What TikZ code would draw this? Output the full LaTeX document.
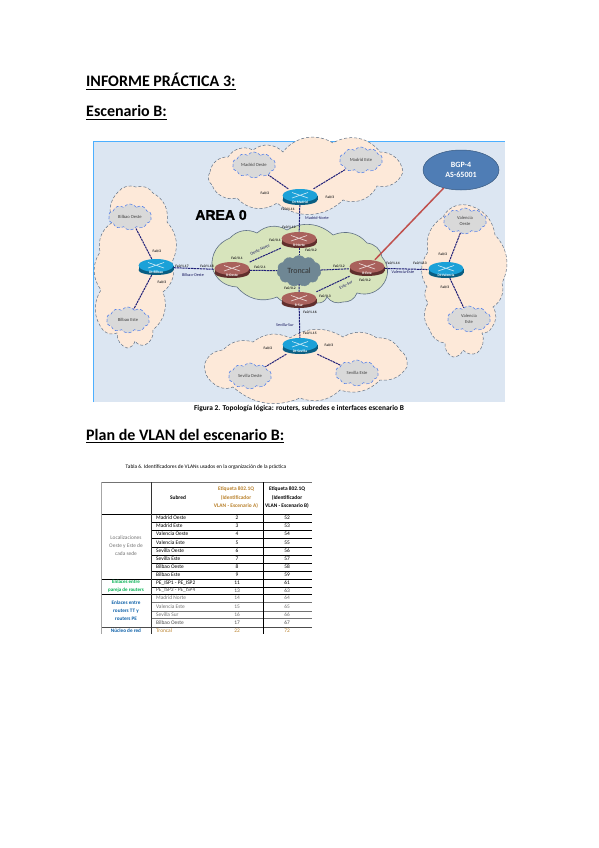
\documentclass[tikz,border=0pt]{standalone}
\usepackage{fontspec}
\setmainfont{Carlito}
\newfontfamily\arialf[BoldFeatures={FakeBold=1.5}]{Liberation Sans}
\usetikzlibrary{shapes.symbols,shapes.geometric,calc}
\definecolor{panelbg}{HTML}{DCE6F2}
\definecolor{peach}{HTML}{FDE9D9}
\definecolor{core}{HTML}{D7E4BC}
\definecolor{slate}{HTML}{6F8794}
\definecolor{navy}{HTML}{1F1F78}
\definecolor{bgpblue}{HTML}{4F7DB5}
\definecolor{bgpred}{HTML}{C0504D}
\definecolor{rtop}{HTML}{A9615C}
\definecolor{rbody}{HTML}{8A4340}
\definecolor{stop}{HTML}{1BA1D8}
\definecolor{sbody}{HTML}{0F86BA}
\definecolor{tabgreen}{HTML}{00B050}
\definecolor{tabblue}{HTML}{0B5FA8}
\definecolor{taborange}{HTML}{B9802A}
\definecolor{cloudedge}{HTML}{5F7085}
\definecolor{subedge}{HTML}{5B84E8}
\tikzset{
  x=1pt,y=-1pt,
  bigcloud/.style={fill=peach,draw=cloudedge,line width=.5pt,densely dashed},
  corecloud/.style={fill=core,draw=cloudedge,line width=.6pt},
  subcloud/.style={cloud,cloud puffs=10,cloud puff arc=110,aspect=1.7,inner sep=0pt,minimum width=43pt,minimum height=26pt,
     fill=black!15,draw=subedge,densely dashed,line width=.6pt,font=\fontsize{4.6}{5.4}\selectfont,align=center,text=black!75},
  troncal/.style={cloud,cloud puffs=11,cloud puff arc=110,aspect=1.5,inner sep=0pt,minimum width=44pt,minimum height=31pt,
     fill=slate,draw=slate,font=\fontsize{8}{9}\selectfont,text=black!80},
  devbox/.style={minimum width=35pt,minimum height=16pt,inner sep=0pt},
  link/.style={draw=navy,dash pattern=on 2.2pt off .7pt,line width=1pt},
  iface/.style={font=\bfseries\fontsize{3.6}{4}\selectfont,inner sep=0pt,text=black!85},
  netname/.style={font=\fontsize{4.2}{5}\selectfont,inner sep=0pt,text=navy!80!black},
  heading/.style={font=\bfseries\fontsize{16}{19}\selectfont,inner sep=0pt,anchor=base west},
  tab/.style={font=\fontsize{5.4}{6}\selectfont,inner sep=0pt,align=center},
  thickrule/.style={line width=.8pt,black},
  thinrule/.style={line width=.4pt,black!55},
}
\newcommand{\netdev}[6]{%
  \fill[#5!70!black] (#2,#3+3) ellipse[x radius=17.5pt,y radius=5pt];
  \fill[#5!70!black] (#2-17.5,#3-1.5) rectangle (#2+17.5,#3+3);
  \fill[#4] (#2,#3-1.5) ellipse[x radius=17.5pt,y radius=6.5pt];
  \draw[white!80!#4,line width=.6pt] (#2-8,#3-4.5) -- (#2+8,#3+1) (#2-8,#3+1) -- (#2+8,#3-4.5);
  \node[devbox] (#1) at (#2,#3) {};
  \node[font=\bfseries\fontsize{3.6}{4}\selectfont,text=white,inner sep=0pt] (#1t) at (#2,#3+5.2) {#6};
}
\newcommand{\uline}[4]{% name, x, baseline y, text
  \node[heading] (#1) at (#2,#3) {#4};
  \draw[line width=1pt] ($(#1.base west)+(0,2.2)$) -- ($(#1.base east)+(0,2.2)$);
}
\begin{document}
\begin{tikzpicture}
\useasboundingbox[fill=white] (0,0) rectangle (599,848);

\uline{h1}{86}{87}{INFORME PRÁCTICA 3:}
\uline{h2}{86}{117}{Escenario B:}
\uline{h3}{86}{440}{Plan de VLAN del escenario B:}

% panel
\fill[panelbg] (93,141) rectangle (505,402);
\draw[line width=.9pt,blue!45!cyan!70] (93.4,402) -- (93.4,141.4) -- (505,141.4);

% big clouds
\draw[bigcloud] (210,172) \foreach \x/\y in {228/157,253/150,283/152,333/143,380/152,403/172,377/186,343/200,277/203,237/198,212/185,210/172} { to[bend left=42] (\x,\y) } -- cycle;
\draw[bigcloud] (113,222) \foreach \x/\y in {118/192,136/187,153/193,167/222,172/262,163/292,153/330,145/345,135/341,127/348,117/333,103/330,101/290,100/252,113/222} { to[bend left=35] (\x,\y) } -- cycle;
\draw[bigcloud] (443,217) \foreach \x/\y in {467/205,495/235,502/283,493/307,492/327,482/333,477/353,463/350,453/357,445/343,430/330,428/303,427/287,428/252,443/217} { to[bend left=35] (\x,\y) } -- cycle;
\draw[bigcloud] (205,363) \foreach \x/\y in {223/350,253/342,290/338,343/337,377/338,400/350,407/367,380/380,340/390,300/398,233/387,213/383,205/363} { to[bend left=32] (\x,\y) } -- cycle;

% core cloud
\draw[corecloud] (212,267) \foreach \x/\y in {230/238,257/233,287/230,333/235,367/243,382/257,384/283,357/293,343/302,327/297,317/303,277/297,237/287,212/267} { to[bend left=36] (\x,\y) } -- cycle;
\node[troncal] (tr) at (299,271) {Troncal};

% BGP
\node[ellipse,fill=bgpblue,draw=bgpblue!70!black,line width=.5pt,minimum width=76pt,minimum height=40pt,inner sep=0pt,text=white,align=center,font=\bfseries\fontsize{8}{10.5}\selectfont] (bgp) at (461,170) {BGP-4\\AS-65001};

% devices
\netdev{rN}{299}{240}{rtop}{rbody}{R-Norte}
\netdev{rW}{232}{270}{rtop}{rbody}{R-Oeste}
\netdev{rE}{367}{268}{rtop}{rbody}{R-Este}
\netdev{rS}{299}{300}{rtop}{rbody}{R-Sur}
\netdev{swT}{300}{197}{stop}{sbody}{Dt-Madrid}
\netdev{swL}{156}{267}{stop}{sbody}{Dt-Bilbao}
\netdev{swR}{446}{270}{stop}{sbody}{Dt-Valencia}
\netdev{swB}{300}{346}{stop}{sbody}{Dt-Sevilla}

% subnets
\node[subcloud] (mo) at (254,165) {Madrid Oeste};
\node[subcloud] (me) at (361,160) {Madrid Este};
\node[subcloud] (bo) at (130,217) {Bilbao Oeste};
\node[subcloud] (be) at (128,320) {Bilbao Este};
\node[subcloud] (so) at (250,376) {Sevilla Oeste};
\node[subcloud] (se) at (357,373) {Sevilla Este};
\node[subcloud] (vo) at (465,221) {Valencia\\Oeste};
\node[subcloud] (ve) at (469,319) {Valencia\\Este};

% links
\draw[link] (swT) -- (mo);
\draw[link] (swT) -- (me);
\draw[link] (swL) -- (bo);
\draw[link] (swL) -- (be);
\draw[link] (swR) -- (vo);
\draw[link] (swR) -- (ve);
\draw[link] (swB) -- (so);
\draw[link] (swB) -- (se);
\draw[link] (swT) -- (rN);
\draw[link] (rN) -- (tr);
\draw[link] (tr) -- (rS);
\draw[link] (rS) -- (swB);
\draw[link] (swL) -- (rW);
\draw[link] (rW) -- (tr);
\draw[link] (rW) -- (rN);
\draw[link] (tr) -- (rE);
\draw[link] (rE) -- (rS);
\draw[link] (rE) -- (swR);
\draw[bgpred,line width=1.5pt] (bgp) -- (rE);

\node[font=\arialf\bfseries\fontsize{14}{16}\selectfont,inner sep=0pt] (area) at (221,215) {AREA 0};

% interface labels
\node[iface] (i1) at (265,193) {Fa0/2};
\node[iface] (i2) at (330,197) {Fa0/3};
\node[iface] (i3) at (288,209) {Fa0/1.11};
\node[iface] (i4) at (289,227) {Fa0/1.12};
\node[iface] (i5) at (311,250) {Fa0/0.2};
\node[iface] (i6) at (237,258) {Fa0/0.1};
\node[iface] (i7) at (275,240) {Fa0/0.1};
\node[iface] (i8) at (260,267) {Fa0/2.1};
\node[iface] (i9) at (339,266) {Fa0/3.2};
\node[iface] (i10) at (365,280) {Fa0/0.2};
\node[iface] (i11) at (325,296) {Fa0/0.3};
\node[iface] (i12) at (290,288) {Fa0/0.2};
\node[iface] (i13) at (310,312) {Fa0/1.16};
\node[iface] (i14) at (310,333) {Fa0/1.15};
\node[iface] (i15) at (268,348) {Fa0/2};
\node[iface] (i16) at (329,345) {Fa0/3};
\node[iface] (i17) at (182,266) {Fa0/1.17};
\node[iface] (i18) at (207,266) {Fa0/1.18};
\node[iface] (i19) at (157,251) {Fa0/2};
\node[iface] (i20) at (162,282) {Fa0/3};
\node[iface] (i21) at (393,263) {Fa0/1.14};
\node[iface] (i22) at (420,263) {Fa0/1.13};
\node[iface] (i23) at (443,254) {Fa0/2};
\node[iface] (i24) at (445,287) {Fa0/3};

\node[netname] (n1) at (317,218) {Madrid-Norte};
\node[netname] (n2) at (193,275) {Bilbao-Oeste};
\node[netname] (n3) at (403,272) {Valencia-Este};
\node[netname] (n4) at (285,325) {Sevilla-Sur};
\node[netname,rotate=25] (n5) at (260,250) {Oeste-Norte};
\node[netname,rotate=25] (n6) at (346,285) {Este-Sur};

\node[font=\bfseries\fontsize{7.4}{8}\selectfont,inner sep=0pt] (cap) at (299,408.5) {Figura 2. Topología lógica: routers, subredes e interfaces escenario B};

% table
\node[font=\fontsize{5.4}{6}\selectfont,inner sep=0pt] (tcap) at (206,467) {Tabla 6. Identificadores de VLANs usados en la organización de la práctica};
\draw[thinrule,line width=.6pt] (101,482) -- (312,482);
\draw[thickrule] (101,514) -- (312,514);
\foreach \yy in {522,530,538,547,555,563,571} \draw[thickrule] (151,\yy) -- (312,\yy);
\draw[thickrule] (101,579) -- (312,579);
\draw[thickrule] (151,587) -- (312,587);
\draw[thickrule] (101,594) -- (312,594);
\draw[thinrule] (151,602) -- (312,602);
\draw[thinrule] (151,611) -- (312,611);
\draw[thinrule] (151,618) -- (312,618);
\draw[line width=.9pt,black!70] (101,627) -- (312,627);
\draw[line width=.7pt,black!35] (101,482) -- (101,634);
\draw[line width=.7pt,black!80] (151,482) -- (151,634);
\draw[line width=.9pt,black] (263,482) -- (263,634);

\node[tab,font=\bfseries\fontsize{5.4}{6}\selectfont] (hs) at (178,498) {Subred};
\node[tab,font=\bfseries\fontsize{5.4}{8.5}\selectfont,text=taborange] (ha) at (236,498) {Etiqueta 802.1Q\\(Identificador\\VLAN - Escenario A)};
\node[tab,font=\bfseries\fontsize{5.4}{8.5}\selectfont] (hb) at (287,498) {Etiqueta 802.1Q\\(Identificador\\VLAN - Escenario B)};

\foreach \yy/\nm/\a/\b/\c in {518/Madrid Oeste/2/52/black,526/Madrid Este/3/53/black,534/Valencia Oeste/4/54/black,542.5/Valencia Este/5/55/black,551/Sevilla Oeste/6/56/black,559/Sevilla Este/7/57/black,567/Bilbao Oeste/8/58/black,575/Bilbao Este/9/59/black,583/PE\_ISP1 - PE\_ISP2/11/61/black,590.5/PE\_ISP3 - PE\_ISP4/13/63/black!70,598/Madrid Norte/14/64/black!55,606.5/Valencia Este/15/65/black!55,614.5/Sevilla Sur/16/66/black!55,622.5/Bilbao Oeste/17/67/black!70,630.5/Troncal/22/72/taborange}
{
  \node[tab,anchor=west,text=\c] at (156,\yy) {\nm};
  \node[tab,text=\c] at (237,\yy) {\a};
  \node[tab,text=\c] at (287,\yy) {\b};
}
\node[tab,text=black!55,font=\fontsize{5.4}{8}\selectfont] (l1) at (126,546) {Localizaciones\\Oeste y Este de\\cada sede};
\node[tab,text=tabgreen,font=\bfseries\fontsize{5}{7.8}\selectfont] (l2) at (126,586.5) {Enlaces entre\\pareja de routers};
\node[tab,text=tabblue,font=\bfseries\fontsize{5.2}{8}\selectfont] (l3) at (126,610.5) {Enlaces entre\\routers TT y\\routers PE};
\node[tab,text=tabblue,font=\bfseries\fontsize{5.2}{6}\selectfont] (l4) at (126,630.5) {Núcleo de red};
\end{tikzpicture}
\end{document}
